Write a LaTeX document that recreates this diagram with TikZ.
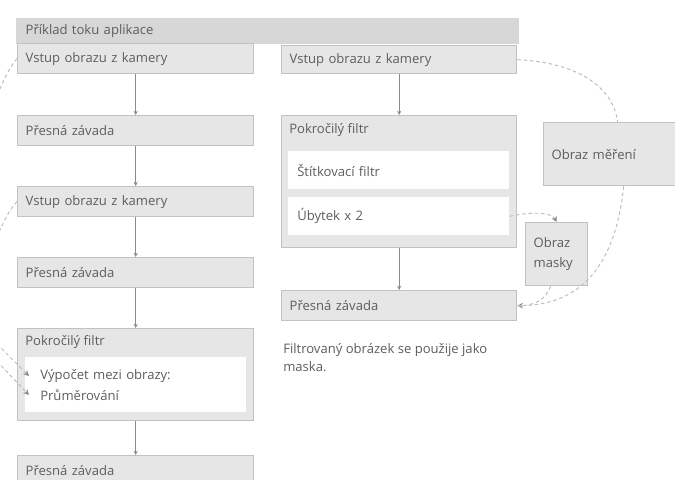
\documentclass[tikz,border=0pt]{standalone}
\usepackage{fontspec}
\setmainfont{Open Sans}
\usepackage{tikz}
\usetikzlibrary{arrows.meta,positioning,calc}
\definecolor{boxfill}{HTML}{E6E6E6}
\definecolor{boxline}{HTML}{C2C2C2}
\definecolor{headfill}{HTML}{D7D7D7}
\definecolor{txtgray}{HTML}{5E5E5E}
\definecolor{arrgray}{HTML}{8A8A8A}
\definecolor{dashgray}{HTML}{BDBDBD}

\begin{document}
\begin{tikzpicture}[x=0.025cm, y=-0.025cm,
  box/.style={draw=boxline, fill=boxfill, line width=0.9pt, anchor=north west,
    inner xsep=0.2cm, inner ysep=0pt, align=left, minimum height=0.75cm,
    text=txtgray, font=\fontsize{9.3}{11}\selectfont},
  wide/.style={box, text width=5.5cm},
  inbox/.style={fill=white, anchor=north west, inner xsep=0.225cm, inner ysep=0pt,
    align=left, text=txtgray, font=\fontsize{9.3}{11}\selectfont},
  plain/.style={anchor=west, inner sep=0pt, text=txtgray, font=\fontsize{9.3}{11}\selectfont},
  flow/.style={arrgray, line width=0.8pt, -{Stealth[length=3pt,width=3pt]}},
  link/.style={dashgray, line width=0.7pt, dash pattern=on 2.5pt off 2pt},
  linkto/.style={link, -{Stealth[length=4pt,width=4pt,arrgray]}}]

  \useasboundingbox (0,0) rectangle (675,479);
  \clip (0,0) rectangle (675,479);

  % Header
  \node[box, draw=none, fill=headfill, inner xsep=0.25cm, text width=12.075cm,
    minimum height=0.65cm] (head) at (15,17) {Příklad toku aplikace};

  % Left column
  \node[wide] (camA) at (17,43) {Vstup obrazu z kamery};
  \node[wide] (defA) at (17,115) {Přesná závada};
  \node[wide] (camB) at (17,186) {Vstup obrazu z kamery};
  \node[wide] (defB) at (17,257) {Přesná závada};
  \node[wide, minimum height=2.3cm] (advA) at (17,328) {};
  \node[plain] (advAtitle) at (25,342) {Pokročilý filtr};
  \node[inbox, text width=4.775cm, minimum height=1.375cm, inner xsep=0.375cm,
    font=\fontsize{9.3}{15}\selectfont] (avgA) at (25,357)
    {Výpočet mezi obrazy:\\Průměrování};
  \node[wide] (defC) at (17,455) {Přesná závada};

  \draw[flow] (camA) -- (defA);
  \draw[flow] (defA) -- (camB);
  \draw[flow] (camB) -- (defB);
  \draw[flow] (defB) -- (advA);
  \draw[flow] (advA) -- (defC);

  % Right column
  \node[box, text width=5.475cm, minimum height=0.7cm] (camR) at (281,45) {Vstup obrazu z kamery};
  \node[box, text width=5.475cm, minimum height=3.3cm] (advR) at (281,115) {};
  \node[plain] (advRtitle) at (289,130) {Pokročilý filtr};
  \node[inbox, text width=5.075cm, minimum height=0.95cm] (labelR) at (288,151) {Štítkovací filtr};
  \node[inbox, text width=5.075cm, minimum height=0.95cm] (shrinkR) at (288,197) {Úbytek x 2};
  \node[box, text width=5.475cm] (defR) at (281,290) {Přesná závada};
  \node[plain, anchor=north west, align=left, font=\fontsize{9.3}{12.8}\selectfont]
    (note) at (283,343) {Filtrovaný obrázek se použije jako\\maska.};

  \draw[flow] (camR) -- (advR);
  \draw[flow] (advR) -- (defR);

  % Side images
  \node[box, text width=2.9cm, minimum height=1.575cm] (measure) at (543,122) {Obraz měření};
  \node[box, text width=1.15cm, minimum height=1.575cm, inner xsep=0.2cm,
    font=\fontsize{9.3}{14}\selectfont] (mask) at (525,222) {Obraz\\masky};

  % Dashed links
  \draw[link] (camR.east) .. controls (585,63) and (614,92) .. ([xshift=0.2cm]measure.north);
  \draw[linkto] ([xshift=0.35cm]measure.south) .. controls (616,260) and (585,305) .. (defR.east);
  \draw[linkto] (shrinkR.east) .. controls (535,211) and (552,213) .. (mask.north);
  \draw[link] ([xshift=-0.15cm]mask.south) .. controls (545,300) and (535,306) .. (defR.east);

  % Left loose ends
  \coordinate (outA) at (-20,150);
  \coordinate (outB) at (-20,290);
  \coordinate (inA) at (-12,335);
  \coordinate (inB) at (-12,352);
  \coordinate (tipA) at (29,376);
  \coordinate (tipB) at (29,395);
  \draw[link] (camA.west) .. controls (5,72) and (-8,105) .. (outA);
  \draw[link] (camB.west) .. controls (5,214) and (-8,245) .. (outB);
  \draw[linkto] (inA) -- (tipA);
  \draw[linkto] (inB) -- (tipB);

\end{tikzpicture}
\end{document}
